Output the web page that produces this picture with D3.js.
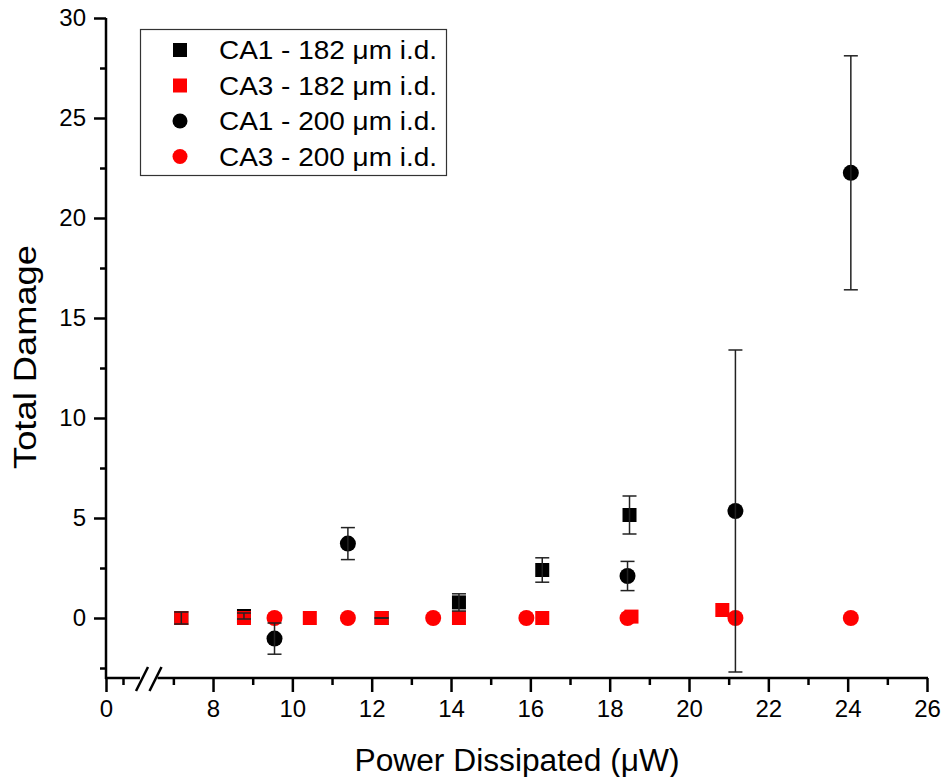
<!DOCTYPE html>
<html>
<head>
<meta charset="utf-8">
<script src="https://cdn.jsdelivr.net/npm/d3@7"></script>
<style>
  html, body { margin: 0; padding: 0; background: #fff; }
  svg { display: block; font-family: "Liberation Sans", Arial, sans-serif; }
</style>
</head>
<body>
<svg id="chart" width="944" height="777"></svg>
<script>
// ---- data ----
const seriesNames = ["CA1 - 182 \u03bcm i.d.", "CA3 - 182 \u03bcm i.d.", "CA1 - 200 \u03bcm i.d.", "CA3 - 200 \u03bcm i.d."];

const ca1_182_x   = [7.2, 8.78, 12.25, 14.2, 16.3, 18.5];
const ca1_182_y   = [0.0, 0.1, 0.0, 0.78, 2.4, 5.15];
const ca1_182_err = [0.3, 0.15, 0.0, 0.43, 0.61, 0.95];

const ca3_182_x   = [7.2, 8.78, 10.44, 12.25, 14.2, 16.3, 18.55, 20.84];
const ca3_182_y   = [0, 0, 0, 0, 0, 0, 0.07, 0.4];

const ca1_200_x   = [9.55, 11.4, 18.45, 21.17, 24.08];
const ca1_200_y   = [-1.03, 3.72, 2.1, 5.35, 22.26];
const ca1_200_err = [0.78, 0.8, 0.73, 8.05, 5.85];

const ca3_200_x   = [9.55, 11.4, 13.55, 15.9, 18.45, 21.17, 24.08];
const ca3_200_y   = [0, 0, 0, 0, 0, 0, 0];

const xMajorTicks = [0, 8, 10, 12, 14, 16, 18, 20, 22, 24, 26];
const xMinorTicks = [1, 7, 9, 11, 13, 15, 17, 19, 21, 23, 25];
const yMajorTicks = [0, 5, 10, 15, 20, 25, 30];
const yMinorTicks = [-2.5, 2.5, 7.5, 12.5, 17.5, 22.5, 27.5];

// ---- layout ----
const svg = d3.select("#chart");
const pLeft = 106, pRight = 927, pTop = 18, pBottom = 678;
const breakLo = 2, breakHi = 6.6;

const x = d3.scaleLinear().domain([0, breakLo, breakHi, 26]).range([pLeft, 140, 157.5, pRight]);
const y = d3.scaleLinear().domain([-3, 30]).range([pBottom, pTop]);

const red = "#ff0000", black = "#000000";
const axisW = 2.5;

// ---- axes ----
const gx = svg.append("g").attr("transform", `translate(0,${pBottom})`);
gx.call(d3.axisBottom(x).tickValues(xMajorTicks).tickSize(14).tickPadding(8).tickFormat(d3.format("d")));
gx.select(".domain").remove();
gx.selectAll(".tick line").attr("stroke-width", axisW);
gx.selectAll(".tick text").attr("font-size", 24).attr("font-family", "Liberation Sans, Arial, sans-serif").attr("fill", "#000");
const gxm = svg.append("g").attr("transform", `translate(0,${pBottom})`);
gxm.call(d3.axisBottom(x).tickValues(xMinorTicks).tickSize(7).tickFormat(""));
gxm.select(".domain").remove();
gxm.selectAll(".tick line").attr("stroke-width", axisW);

// x axis line in two segments with break marks
svg.append("line").attr("x1", x(0) - 1).attr("x2", x(breakLo)).attr("y1", pBottom).attr("y2", pBottom)
  .attr("stroke", "#000").attr("stroke-width", axisW);
svg.append("line").attr("x1", x(breakHi)).attr("x2", x(26) + 1).attr("y1", pBottom).attr("y2", pBottom)
  .attr("stroke", "#000").attr("stroke-width", axisW);
[x(breakLo) + 2, x(breakHi) - 2].forEach(cx => {
  svg.append("line").attr("x1", cx - 6).attr("x2", cx + 6).attr("y1", pBottom + 13).attr("y2", pBottom - 11)
    .attr("stroke", "#000").attr("stroke-width", axisW);
});

const gy = svg.append("g").attr("transform", `translate(${pLeft},0)`);
gy.call(d3.axisLeft(y).tickValues(yMajorTicks).tickSize(12).tickPadding(8).tickFormat(d3.format("d")));
gy.select(".domain").remove();
gy.selectAll(".tick line").attr("stroke-width", axisW);
gy.selectAll(".tick text").attr("font-size", 24).attr("font-family", "Liberation Sans, Arial, sans-serif").attr("fill", "#000");
const gym = svg.append("g").attr("transform", `translate(${pLeft},0)`);
gym.call(d3.axisLeft(y).tickValues(yMinorTicks).tickSize(6).tickFormat(""));
gym.select(".domain").remove();
gym.selectAll(".tick line").attr("stroke-width", axisW);
svg.append("line").attr("x1", pLeft).attr("x2", pLeft).attr("y1", pTop).attr("y2", pBottom + 1)
  .attr("stroke", "#000").attr("stroke-width", axisW);

// axis titles
svg.append("text").attr("x", 517).attr("y", 771).attr("text-anchor", "middle")
  .attr("font-size", 31).attr("textLength", 325).attr("lengthAdjust", "spacingAndGlyphs")
  .text("Power Dissipated (\u03bcW)");
svg.append("text").attr("transform", `translate(36,357) rotate(-90)`).attr("text-anchor", "middle")
  .attr("font-size", 31).attr("textLength", 224).attr("lengthAdjust", "spacingAndGlyphs")
  .text("Total Damage");

// ---- markers ----
const sq = 14, rc = 8;
function squares(xs, ys, color) {
  svg.append("g").selectAll("rect").data(xs.map((d, i) => [d, ys[i]])).join("rect")
    .attr("x", d => x(d[0]) - sq / 2).attr("y", d => y(d[1]) - sq / 2)
    .attr("width", sq).attr("height", sq).attr("fill", color);
}
function circles(xs, ys, color) {
  svg.append("g").selectAll("circle").data(xs.map((d, i) => [d, ys[i]])).join("circle")
    .attr("cx", d => x(d[0])).attr("cy", d => y(d[1])).attr("r", rc).attr("fill", color);
}
squares(ca1_182_x, ca1_182_y, black);
squares(ca3_182_x, ca3_182_y, red);
circles(ca1_200_x, ca1_200_y, black);
circles(ca3_200_x, ca3_200_y, red);

// ---- error bars (drawn on top) ----
function errorBars(xs, ys, es) {
  const g = svg.append("g").attr("stroke", "#222").attr("stroke-width", 1.5).attr("fill", "none");
  xs.forEach((xv, i) => {
    const cx = x(xv), y1 = y(ys[i] + es[i]), y2 = y(ys[i] - es[i]);
    g.append("line").attr("x1", cx).attr("x2", cx).attr("y1", y1).attr("y2", y2);
    g.append("line").attr("x1", cx - 7).attr("x2", cx + 7).attr("y1", y1).attr("y2", y1);
    g.append("line").attr("x1", cx - 7).attr("x2", cx + 7).attr("y1", y2).attr("y2", y2);
  });
}
errorBars(ca1_182_x, ca1_182_y, ca1_182_err);
errorBars(ca1_200_x, ca1_200_y, ca1_200_err);

// ---- legend ----
const lg = svg.append("g");
lg.append("rect").attr("x", 140.5).attr("y", 29.5).attr("width", 306).attr("height", 146)
  .attr("fill", "#fff").attr("stroke", "#333").attr("stroke-width", 1.2);
const legendItems = [
  { name: seriesNames[0], color: black, shape: "square" },
  { name: seriesNames[1], color: red, shape: "square" },
  { name: seriesNames[2], color: black, shape: "circle" },
  { name: seriesNames[3], color: red, shape: "circle" }
];
legendItems.forEach((it, i) => {
  const cy = 50 + i * 35.5;
  if (it.shape === "square") {
    lg.append("rect").attr("x", 180 - 7).attr("y", cy - 7).attr("width", 14).attr("height", 14).attr("fill", it.color);
  } else {
    lg.append("circle").attr("cx", 180).attr("cy", cy).attr("r", 7.5).attr("fill", it.color);
  }
  lg.append("text").attr("x", 219).attr("y", cy + 9).attr("font-size", 26)
    .attr("textLength", 218).attr("lengthAdjust", "spacingAndGlyphs").text(it.name);
});
</script>
</body>
</html>
